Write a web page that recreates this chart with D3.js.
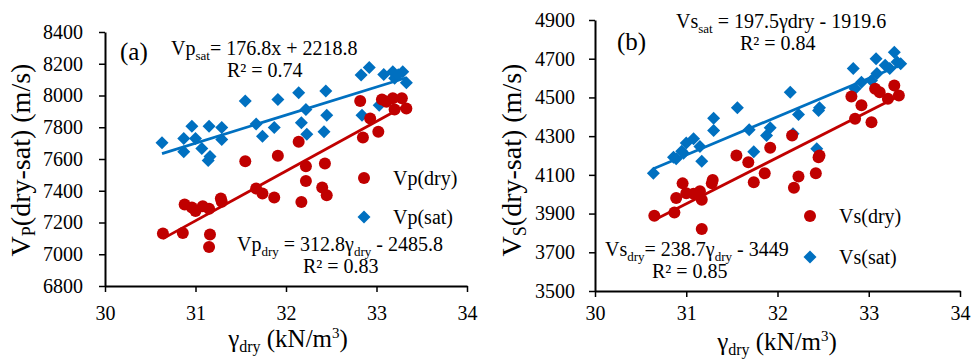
<!DOCTYPE html>
<html>
<head>
<meta charset="utf-8">
<script src="https://cdn.jsdelivr.net/npm/d3@7"></script>
</head>
<body style="margin:0;background:#fff">
<script>
// panel (a) Vp
var vpSatX = [30.63, 30.87, 30.87, 30.96, 31.00, 31.07, 31.15, 31.16, 31.14, 31.29, 31.29, 31.55, 31.67, 31.74,
              31.87, 31.91, 32.14, 32.17, 32.22, 32.23, 32.42, 32.44, 32.45, 32.83, 32.84, 32.92, 33.03,
              33.08, 33.18, 33.20, 33.29, 33.33, 33.24];
var vpSatY = [7702, 7729, 7645, 7807, 7729, 7666, 7807, 7615, 7590, 7798, 7723, 7965, 7820, 7744,
              7798, 7975, 8017, 7828, 7912, 7756, 7771, 8028, 7876, 8129, 7876, 8177, 7939,
              8133, 8150, 8108, 8150, 8080, 8130];
var vpDryX = [30.64, 30.86, 30.88, 30.96, 31.00, 31.08, 31.15, 31.16, 31.15, 31.28, 31.29, 31.55, 31.67,
              31.74, 31.87, 31.91, 32.14, 32.17, 32.22, 32.22, 32.40, 32.43, 32.45, 32.82, 32.85, 32.93,
              33.02, 33.06, 33.11, 33.18, 33.20, 33.28, 33.33];
var vpDryY = [7130, 7134, 7313, 7294, 7272, 7302, 7287, 7125, 7045, 7351, 7330, 7586, 7414,
              7382, 7357, 7620, 7708, 7329, 7554, 7462, 7420, 7571, 7372, 7965, 7736, 7855,
              7771, 7975, 7960, 7982, 7912, 7982, 7918];
var vpTicks = [6800, 7000, 7200, 7400, 7600, 7800, 8000, 8200, 8400];

// panel (b) Vs
var vsSatX = [30.64, 30.86, 30.89, 30.95, 30.97, 31.00, 31.08, 31.15, 31.17, 31.30, 31.30, 31.56, 31.69,
              31.74, 31.88, 31.92, 32.14, 32.17, 32.23, 32.43, 32.46, 32.45, 32.83, 32.85, 32.92,
              33.03, 33.08, 33.09, 33.18, 33.23, 33.28, 33.31, 33.35];
var vsSatY = [4108, 4191, 4183, 4222, 4212, 4264, 4286, 4246, 4170, 4393, 4329, 4447, 4333,
              4220, 4303, 4343, 4527, 4312, 4412, 4235, 4447, 4433, 4649, 4545, 4579,
              4588, 4700, 4623, 4666, 4649, 4734, 4683, 4674];
var vsDryX = [30.65, 30.87, 30.89, 30.96, 31.00, 31.08, 31.15, 31.17, 31.17, 31.28, 31.29, 31.55, 31.68,
              31.74, 31.86, 31.92, 32.16, 32.18, 32.23, 32.42, 32.45, 32.46, 32.81, 32.85, 32.92,
              33.03, 33.07, 33.12, 33.21, 33.28, 33.33];
var vsDryY = [3889, 3906, 3981, 4056, 4005, 4002, 4015, 3971, 3820, 4056, 4074, 4200, 4165,
              4062, 4108, 4240, 4303, 4033, 4091, 4108, 4191, 4200, 4505, 4390, 4459,
              4372, 4545, 4527, 4493, 4562, 4510];
var vsTicks = [3500, 3700, 3900, 4100, 4300, 4500, 4700, 4900];

var xTicks = [30, 31, 32, 33, 34];

// trend line coefficients [slope, intercept]
var vpSatFit = [176.8, 2218.8], vpDryFit = [312.8, -2485.8];
var vsSatFit = [197.5, -1919.6], vsDryFit = [238.7, -3449];

var red = "#C00000", blue = "#0070C0";
var serif = "'Liberation Serif', 'Times New Roman', serif";

var svg = d3.select("body").append("svg")
  .attr("width", 971).attr("height", 362);

function diamond(r) { return "M0," + (-r) + "L" + r + ",0L0," + r + "L" + (-r) + ",0Z"; }

function styleAxis(a) {
  a.attr("font-size", 20);
  a.select(".domain").attr("stroke", "#000").attr("stroke-width", 2);
  a.selectAll(".tick line").attr("stroke", "#000").attr("stroke-width", 1.5);
  a.selectAll(".tick text").attr("fill", "#000");
}

function panel(p) {
  var x = d3.scaleLinear().domain([30, 34]).range([p.left, p.right]);
  var y = d3.scaleLinear().domain([p.yTicks[0], p.yTicks[p.yTicks.length - 1]]).range([p.bottom, p.top]);
  var g = svg.append("g");

  g.append("g")
    .attr("transform", "translate(0," + p.bottom + ")")
    .call(d3.axisBottom(x).tickValues(xTicks).tickSize(6).tickSizeOuter(0).tickPadding(p.xPad).tickFormat(d3.format("d")))
    .call(styleAxis);

  g.append("g")
    .attr("transform", "translate(" + p.left + ",0)")
    .call(d3.axisLeft(y).tickValues(p.yTicks).tickSize(6).tickSizeOuter(0).tickPadding(p.yPad).tickFormat(d3.format("d")))
    .call(styleAxis);

  // trend lines over the data range
  function fitLine(xs, fit, col) {
    var ext = d3.extent(xs);
    g.append("line")
      .attr("x1", x(ext[0])).attr("y1", y(fit[0] * ext[0] + fit[1]))
      .attr("x2", x(ext[1])).attr("y2", y(fit[0] * ext[1] + fit[1]))
      .attr("stroke", col).attr("stroke-width", 2.75);
  }

  g.selectAll(".sat").data(d3.range(p.satX.length)).enter()
    .append("path").attr("class", "sat")
    .attr("d", diamond(6.5))
    .attr("transform", function(i) { return "translate(" + x(p.satX[i]) + "," + y(p.satY[i]) + ")"; })
    .attr("fill", blue);
  g.selectAll(".dry").data(d3.range(p.dryX.length)).enter()
    .append("circle").attr("class", "dry")
    .attr("cx", function(i) { return x(p.dryX[i]); })
    .attr("cy", function(i) { return y(p.dryY[i]); })
    .attr("r", 6).attr("fill", red);

  fitLine(p.satX, p.satFit, blue);
  fitLine(p.dryX, p.dryFit, red);

  // axis titles
  var yt = g.append("text")
    .attr("transform", "translate(" + p.yTitleX + "," + p.yTitleY + ") rotate(-90)")
    .attr("text-anchor", "middle").attr("font-size", 28);
  yt.append("tspan").text("V");
  yt.append("tspan").attr("font-size", 18).attr("dy", 5).text(p.sub);
  yt.append("tspan").attr("dy", -5).text("(dry-sat) (m/s)");

  var xt = g.append("text")
    .attr("x", p.xTitleX).attr("y", p.xTitleY)
    .attr("text-anchor", "middle").attr("font-size", 25);
  xt.append("tspan").text("γ");
  xt.append("tspan").attr("font-size", 16).attr("dy", 5).text("dry");
  xt.append("tspan").attr("dy", -5).text(" (kN/m");
  xt.append("tspan").attr("font-size", 15).attr("dy", -9).text("3");
  xt.append("tspan").attr("dy", 9).text(")");

  g.append("text").attr("x", p.tag[0]).attr("y", p.tag[1]).attr("font-size", 25).text(p.tagText);

  // legend
  p.legend.forEach(function(l) {
    if (l.kind === "dry") {
      g.append("circle").attr("cx", l.x).attr("cy", l.y).attr("r", 6).attr("fill", red);
    } else {
      g.append("path").attr("d", diamond(6.5)).attr("transform", "translate(" + l.x + "," + l.y + ")").attr("fill", blue);
    }
    g.append("text").attr("x", l.x + 29).attr("y", l.y + 7).attr("font-size", 20).text(l.label);
  });

  // equations
  p.eqs.forEach(function(e) {
    var t = g.append("text").attr("x", e.x).attr("y", e.y).attr("font-size", 20);
    e.parts.forEach(function(pt) {
      if (pt[1] === "sub") {
        t.append("tspan").attr("font-size", 13).attr("dy", 5).text(pt[0]);
      } else {
        t.append("tspan").attr("dy", pt[1] === "back" ? -5 : 0).text(pt[0]);
      }
    });
    g.append("text").attr("x", e.rx).attr("y", e.y + 22).attr("font-size", 20).text(e.r2);
  });
}

panel({
  left: 105, right: 467, top: 32, bottom: 286,
  yTicks: vpTicks, satX: vpSatX, satY: vpSatY, dryX: vpDryX, dryY: vpDryY,
  satFit: vpSatFit, dryFit: vpDryFit, sub: "P",
  xPad: 14, yPad: 16, yTitleX: 30, yTitleY: 160, xTitleX: 288, xTitleY: 347,
  tag: [120, 60], tagText: "(a)",
  legend: [{kind: "dry", x: 364, y: 178, label: "Vp(dry)"}, {kind: "sat", x: 364, y: 217, label: "Vp(sat)"}],
  eqs: [
    {x: 171, y: 55, parts: [["Vp"], ["sat", "sub"], ["= 176.8x + 2218.8", "back"]], rx: 227, r2: "R² = 0.74"},
    {x: 237, y: 251, parts: [["Vp"], ["dry", "sub"], [" = 312.8γ", "back"], ["dry", "sub"], [" - 2485.8", "back"]], rx: 303, r2: "R² = 0.83"}
  ]
});

panel({
  left: 595, right: 960, top: 20, bottom: 291,
  yTicks: vsTicks, satX: vsSatX, satY: vsSatY, dryX: vsDryX, dryY: vsDryY,
  satFit: vsSatFit, dryFit: vsDryFit, sub: "S",
  xPad: 9, yPad: 14, yTitleX: 521, yTitleY: 160, xTitleX: 777, xTitleY: 350,
  tag: [617, 50], tagText: "(b)",
  legend: [{kind: "dry", x: 810, y: 216, label: "Vs(dry)"}, {kind: "sat", x: 810, y: 257, label: "Vs(sat)"}],
  eqs: [
    {x: 676, y: 28, parts: [["Vs"], ["sat", "sub"], [" = 197.5γdry - 1919.6", "back"]], rx: 740, r2: "R² = 0.84"},
    {x: 605, y: 256, parts: [["Vs"], ["dry", "sub"], ["= 238.7γ", "back"], ["dry", "sub"], [" - 3449", "back"]], rx: 652, r2: "R² = 0.85"}
  ]
});

// serif face on every text node
svg.selectAll("text, tspan").attr("font-family", serif).style("font-family", serif);
</script>
</body>
</html>
